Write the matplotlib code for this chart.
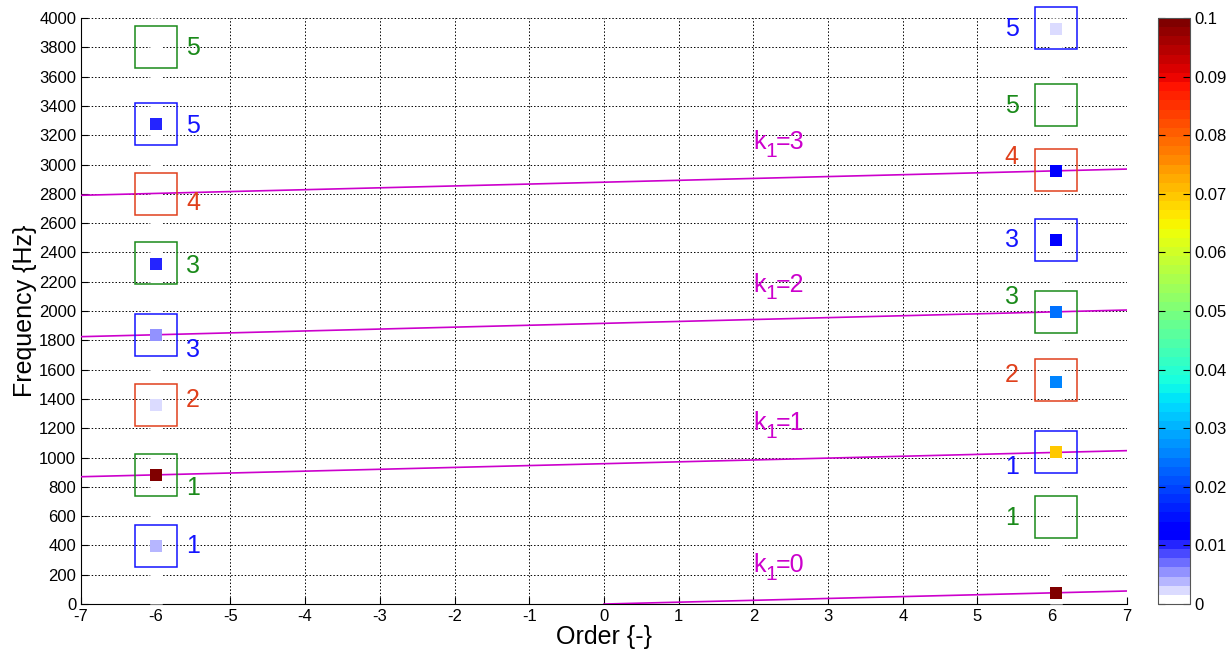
import numpy as np
import matplotlib.pyplot as plt
from matplotlib.colors import ListedColormap

plt.rcParams['font.family'] = ['Liberation Sans', 'DejaVu Sans']
plt.rcParams['axes.unicode_minus'] = False

# mode boxes at order -6 and +6 (frequency in Hz, colour, mode number)
left_box_freq = [3800, 3280, 2800, 2325, 1836, 1358, 881, 399]
left_box_col = ['g', 'b', 'r', 'g', 'b', 'r', 'g', 'b']
left_box_lbl = ['5', '5', '4', '3', '3', '2', '1', '1']
left_lbl_freq = [3795, 3263, 2737, 2307, 1734, 1392, 790, 396]

right_box_freq = [3930, 3403, 2962, 2485, 1993, 1529, 1041, 597]
right_box_col = ['b', 'g', 'r', 'b', 'g', 'r', 'b', 'g']
right_box_lbl = ['5', '5', '4', '3', '3', '2', '1', '1']
right_lbl_freq = [3925, 3399, 3051, 2485, 2096, 1563, 935, 587]

# measured amplitudes
left_pt_freq = [3276, 2320, 1836, 1358, 881, 396]
left_pt_amp = [0.010, 0.010, 0.005, 0.002, 0.1, 0.0035]
right_pt_freq = [3925, 2956, 2485, 1993, 1515, 1037, 75]
right_pt_amp = [0.002, 0.012, 0.012, 0.024, 0.025, 0.069, 0.1]

# k1 lines (start order, start freq, end freq at order 7)
k_vals = [0, 1, 2, 3]
k_start_order = [0, -7, -7, -7]
k_start_freq = [0, 869, 1825, 2790]
k_end_freq = [89, 1047, 2007, 2969]
k_lbl_freq = [266, 1235, 2180, 3153]

colmap = {'g': '#1a8a1a', 'b': '#1414ff', 'r': '#e0401c'}
magenta = '#cc00cc'

# colormap: white -> blue for the lowest levels, jet above
n = 64
jet = plt.get_cmap('jet')
cols = []
for i in range(n):
    if i < 7:
        t = i / 7
        cols.append((1 - t, 1 - t, 1.0))
    else:
        cols.append(jet(i / 63))
cmap = ListedColormap(cols)

fig = plt.figure(figsize=(12.29, 6.58), dpi=100)
ax = fig.add_axes([0.0659, 0.082, 0.851, 0.8906])
cax = fig.add_axes([0.942, 0.082, 0.026, 0.8906])

ax.set_xlim(-7, 7)
ax.set_ylim(0, 4000)
ax.set_xticks(np.arange(-7, 8, 1))
ax.set_yticks(np.arange(0, 4001, 200))
ax.grid(True, color='black', linestyle=(0, (1.5, 2)), linewidth=0.7)
ax.set_axisbelow(True)
ax.tick_params(direction='in', labelsize=12, length=5)
ax.spines['top'].set_visible(False)
ax.spines['right'].set_visible(False)

x_left = -6.0
x_right = 6.05

# white stems hiding grid at the two orders
for xx in [x_left, x_right]:
    ax.plot([xx, xx], [0, 4000], color='white', lw=9, solid_capstyle='butt',
            zorder=2.6, clip_on=False)

for k, xs, ys, ye, yl in zip(k_vals, k_start_order, k_start_freq, k_end_freq, k_lbl_freq):
    ax.plot([xs, 7], [ys, ye], color=magenta, lw=1.2, zorder=3)
    # k, subscript 1, =k
    ax.annotate('k', (2.0, yl), xytext=(0, 0), textcoords='offset pixels',
                color=magenta, fontsize=18, va='center', ha='left', zorder=5)
    ax.annotate('1', (2.0, yl), xytext=(12, -9), textcoords='offset pixels',
                color=magenta, fontsize=15, va='center', ha='left', zorder=5)
    ax.annotate('=%d' % k, (2.0, yl), xytext=(22, 0), textcoords='offset pixels',
                color=magenta, fontsize=18, va='center', ha='left', zorder=5)

for f, c, l, fl in zip(left_box_freq, left_box_col, left_box_lbl, left_lbl_freq):
    ax.plot(x_left, f, marker='s', markersize=30, markerfacecolor='none',
            markeredgecolor=colmap[c], markeredgewidth=1.1, zorder=4, clip_on=False)
    ax.text(-5.5, fl, l, color=colmap[c], fontsize=18, ha='center', va='center', zorder=5)

for f, c, l, fl in zip(right_box_freq, right_box_col, right_box_lbl, right_lbl_freq):
    ax.plot(x_right, f, marker='s', markersize=30, markerfacecolor='none',
            markeredgecolor=colmap[c], markeredgewidth=1.1, zorder=4, clip_on=False)
    ax.text(5.46, fl, l, color=colmap[c], fontsize=18, ha='center', va='center', zorder=5)

sc = ax.scatter([x_left] * len(left_pt_freq) + [x_right] * len(right_pt_freq),
                left_pt_freq + right_pt_freq, c=left_pt_amp + right_pt_amp,
                cmap=cmap, vmin=0, vmax=0.1, marker='s', s=75, linewidths=0,
                zorder=4.5, clip_on=False)

ax.set_xlabel('Order {-}', fontsize=18, labelpad=1)
ax.set_ylabel('Frequency {Hz}', fontsize=18, labelpad=1)

cb = fig.colorbar(sc, cax=cax, ticks=np.arange(0, 0.101, 0.01))
cb.ax.set_yticklabels(['0', '0.01', '0.02', '0.03', '0.04', '0.05', '0.06',
                       '0.07', '0.08', '0.09', '0.1'])
cb.ax.tick_params(direction='in', left=True, right=True, labelsize=12, length=5)
cb.outline.set_edgecolor('#555555')

fig.savefig('out.png', dpi=100)
